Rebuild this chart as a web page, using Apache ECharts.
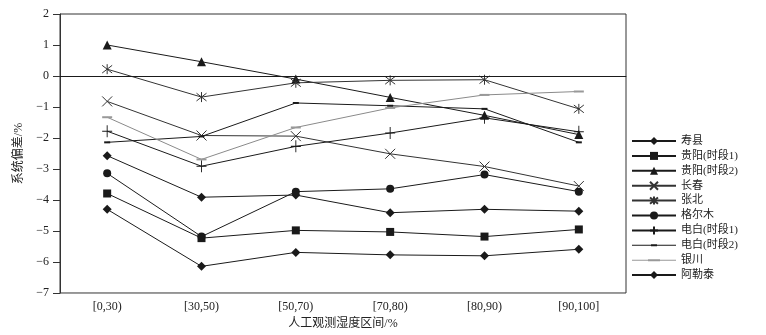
<!DOCTYPE html>
<html><head><meta charset="utf-8">
<script src="https://cdn.jsdelivr.net/npm/echarts@6/dist/echarts.min.js"></script>
<style>html,body{margin:0;padding:0;background:#fff}#c{width:766px;height:335px}</style>
</head><body><div id="c"></div>
<script>
const categories = ['[0,30)','[30,50)','[50,70)','[70,80)','[80,90)','[90,100]'];
const yTicks = [2,1,0,-1,-2,-3,-4,-5,-6,-7];
const shouxian  = [-2.57,-3.91,-3.84,-4.41,-4.30,-4.36];
const guiyang1  = [-3.79,-5.23,-4.98,-5.03,-5.18,-4.95];
const guiyang2  = [1.00,0.46,-0.10,-0.69,-1.27,-1.89];
const changchun = [-0.82,-1.92,-1.94,-2.51,-2.92,-3.55];
const zhangbei  = [0.22,-0.68,-0.22,-0.14,-0.12,-1.06];
const geermu    = [-3.14,-5.18,-3.73,-3.64,-3.18,-3.73];
const dianbai1  = [-1.78,-2.91,-2.27,-1.84,-1.35,-1.80];
const dianbai2  = [-2.14,-1.95,-0.87,-0.96,-1.06,-2.14];
const yinchuan  = [-1.33,-2.69,-1.66,-1.03,-0.61,-0.50];
const aletai    = [-4.30,-6.14,-5.69,-5.77,-5.80,-5.59];

const FONT = "Liberation Serif, Times New Roman, Noto Sans CJK SC, serif";
const K = '#1a1a1a';
function mk(name, data, symbol, size, color, lineColor, extra, keep) {
  return {
    name, type: 'line', data, symbol, symbolSize: size, symbolKeepAspect: !!keep,
    itemStyle: Object.assign({color: color, borderColor: color, borderWidth: 0}, extra || {}),
    lineStyle: {color: lineColor || K, width: 1},
    emphasis: {disabled: true}, animation: false
  };
}
const X = 'path://M0,0L10,10M10,0L0,10';
const STAR = 'path://M0,0L10,10M10,0L0,10M5,-1.5L5,11.5';
const PLUS = 'path://M5,0L5,12M0,6L10,6';
const DASH = 'path://M0,0L3,0L3,1L0,1Z';
const BAR = 'path://M0,0L5,0L5,1L0,1Z';
const LEG_DASH = 'path://M0,4.5L44,4.5L44,5.5L0,5.5Z M19,4L25,4L25,6L19,6Z M22,0L22,0 M22,10L22,10';
const LEG_BAR = 'path://M0,4.5L44,4.5L44,5.5L0,5.5Z M16,4L28,4L28,6L16,6Z M22,0L22,0 M22,10L22,10';
const series = [
  mk('寿县', shouxian, 'diamond', 9, K),
  mk('贵阳(时段1)', guiyang1, 'rect', 8, K),
  mk('贵阳(时段2)', guiyang2, 'triangle', 9, K),
  mk('长春', changchun, X, 10, K, '#333', {borderWidth: 1, borderColor: '#333'}),
  mk('张北', zhangbei, STAR, 10, K, '#333', {borderWidth: 1, borderColor: '#333'}),
  mk('格尔木', geermu, 'circle', 8, K),
  mk('电白(时段1)', dianbai1, PLUS, [10,12], K, K, {borderWidth: 1, borderColor: K}),
  mk('电白(时段2)', dianbai2, DASH, 6, K, K, null, true),
  mk('银川', yinchuan, BAR, 10, '#999', '#8a8a8a', null, true),
  mk('阿勒泰', aletai, 'diamond', 9, K)
];
series[0].markLine = {
  silent: true, symbol: 'none', label: {show: false},
  lineStyle: {color: K, width: 1, type: 'solid'},
  data: [{yAxis: 0}], animation: false
};
const legendData = series.map(s => {
  if (s.name === '电白(时段2)') return {name: s.name, icon: LEG_DASH};
  if (s.name === '银川') return {name: s.name, icon: LEG_BAR};
  return {name: s.name};
});
const chart = echarts.init(document.getElementById('c'));
chart.setOption({
  animation: false,
  textStyle: {fontFamily: FONT},
  grid: {left: 60, top: 14, width: 566, height: 280, show: true, borderColor: '#333', borderWidth: 1},
  legend: {
    orient: 'vertical', left: 631, top: 135.5, padding: 0, itemWidth: 44, itemHeight: 10, itemGap: 3.9,
    textStyle: {fontFamily: FONT, fontSize: 11, lineHeight: 10, color: '#222'},
    data: legendData
  },
  xAxis: {
    type: 'category', data: categories, boundaryGap: true,
    name: '人工观测湿度区间/%', nameLocation: 'middle', nameGap: 25,
    nameTextStyle: {fontFamily: FONT, fontSize: 12, color: '#222'},
    axisLine: {lineStyle: {color: '#333', width: 1}},
    axisTick: {inside: true, length: 6, alignWithLabel: true, lineStyle: {color: '#333'}},
    axisLabel: {margin: 8, fontFamily: FONT, fontSize: 12, color: '#222'}
  },
  yAxis: {
    type: 'value', min: -7, max: 2, interval: 1,
    name: '系统偏差/%', nameLocation: 'middle', nameGap: 33,
    nameTextStyle: {fontFamily: FONT, fontSize: 12, color: '#222'},
    axisLine: {show: true, lineStyle: {color: '#333', width: 1}},
    axisTick: {show: true, length: 7, lineStyle: {color: '#333'}},
    splitLine: {show: false},
    axisLabel: {margin: 11, fontFamily: FONT, fontSize: 12, color: '#222',
      formatter: v => (yTicks.includes(v) ? String(v).replace('-', '\u2212') : '')}
  },
  series
});
</script></body></html>
